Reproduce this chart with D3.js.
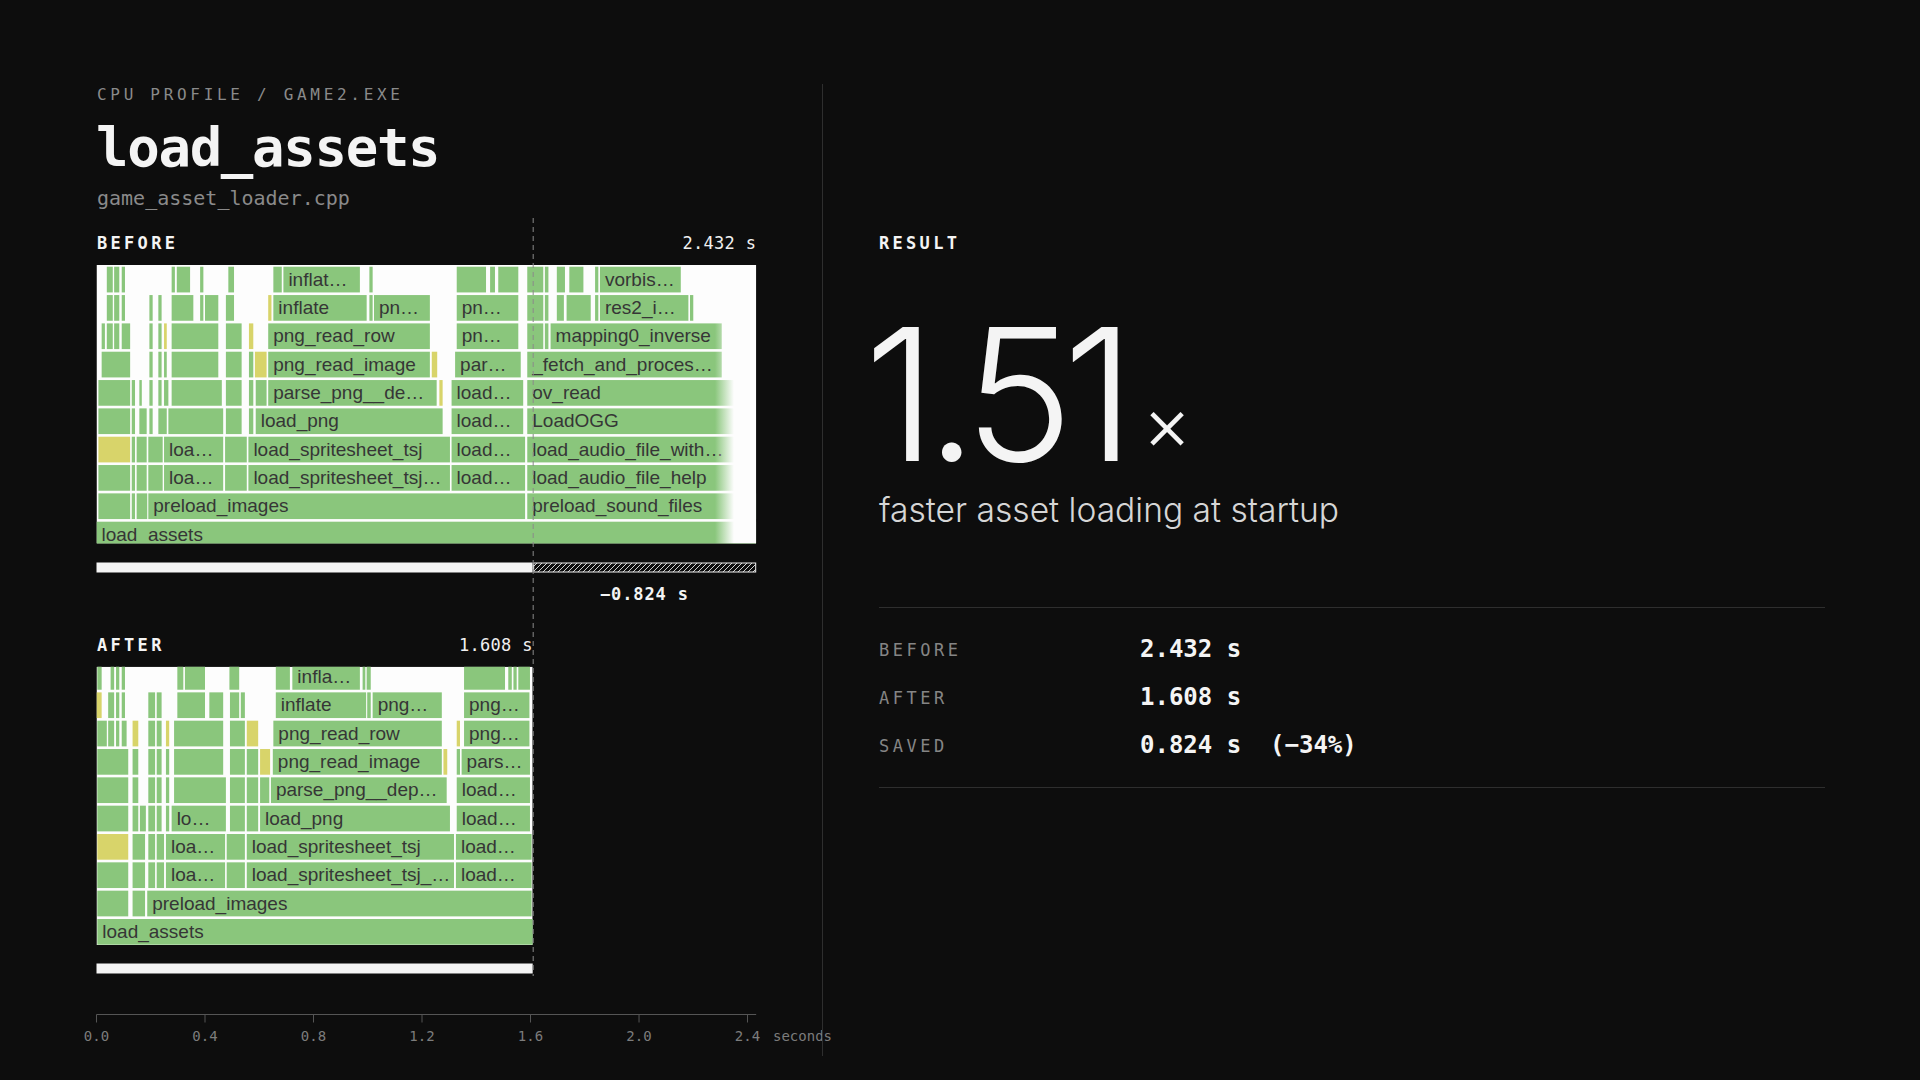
<!DOCTYPE html>
<html><head><meta charset="utf-8">
<script src="https://cdn.jsdelivr.net/npm/d3@7"></script>
<style>
html,body{margin:0;padding:0;background:#0d0d0d;}
svg{display:block;}
</style></head><body>
<svg id="chart" width="1920" height="1080"></svg>
<script>
// ---- data (times in ms) : [depth, start, end, label, kind] ----
const beforeFrames = [
 [0,0,2432,"load_assets"],
 [1,7,124],[1,130,142],[1,148,187],[1,191,1580,"preload_images"],[1,1588,2432,"preload_sound_files"],
 [2,7,124],[2,130,142],[2,148,185],[2,191,244],[2,249,467,"loa…"],[2,474,554],[2,560,1303,"load_spritesheet_tsj…"],[2,1309,1580,"load…"],[2,1588,2420,"load_audio_file_help"],
 [3,7,124,"","y"],[3,130,142],[3,148,185],[3,191,244],[3,249,467,"loa…"],[3,474,554],[3,560,1303,"load_spritesheet_tsj"],[3,1309,1580,"load…"],[3,1588,2420,"load_audio_file_with…"],
 [4,7,124],[4,130,142],[4,158,185],[4,195,207],[4,228,259],[4,265,467],[4,477,535],[4,562,578],[4,587,1276,"load_png"],[4,1309,1573,"load…"],[4,1588,2420,"LoadOGG"],
 [5,7,124],[5,130,142],[5,158,167],[5,195,207],[5,228,240],[5,249,265],[5,277,462],[5,477,535],[5,562,578],[5,587,627],[5,633,1254,"parse_png__de…"],[5,1264,1276,"","y"],[5,1309,1573,"load…"],[5,1588,2420,"ov_read"],
 [6,19,124],[6,195,207],[6,228,240],[6,249,259],[6,277,449],[6,477,535],[6,562,578],[6,584,627,"","y"],[6,633,1229,"png_read_image"],[6,1236,1256,"","y"],[6,1322,1564,"par…"],[6,1588,2305,"_fetch_and_proces…"],
 [7,19,31],[7,38,60],[7,65,84],[7,93,124],[7,195,207],[7,228,240],[7,249,259,"","y"],[7,277,449],[7,477,535],[7,562,578,"","y"],[7,633,1229,"png_read_row"],[7,1328,1555,"pn…"],[7,1588,1647],[7,1653,1666],[7,1674,2305,"mapping0_inverse"],
 [8,38,60],[8,65,84],[8,93,105],[8,195,207],[8,228,240],[8,277,357],[8,382,394],[8,400,449],[8,477,507],[8,633,645,"","y"],[8,652,996,"inflate"],[8,1006,1018],[8,1023,1229,"pn…"],[8,1328,1555,"pn…"],[8,1588,1647],[8,1653,1666],[8,1697,1723],[8,1733,1822],[8,1838,1850],[8,1856,2182,"res2_i…"],[8,2188,2200],
 [9,38,60],[9,65,84],[9,93,105],[9,277,289],[9,296,345],[9,382,394],[9,486,507],[9,652,683],[9,689,971,"inflat…"],[9,1006,1018],[9,1328,1436],[9,1451,1469],[9,1481,1555],[9,1588,1647],[9,1653,1666],[9,1697,1727],[9,1743,1795],[9,1838,1850],[9,1856,2154,"vorbis…"]
];
const afterFrames = [
 [0,3,1610,"load_assets"],
 [1,3,117],[1,133,179],[1,187,1604,"preload_images"],
 [2,3,117],[2,133,179],[2,191,216],[2,222,249],[2,256,474,"loa…"],[2,480,547],[2,554,1318,"load_spritesheet_tsj_…"],[2,1325,1604,"load…"],
 [3,3,117,"","y"],[3,133,179],[3,191,216],[3,222,249],[3,256,474,"loa…"],[3,480,547],[3,554,1318,"load_spritesheet_tsj"],[3,1325,1604,"load…"],
 [4,3,117],[4,133,154],[4,160,182],[4,191,216],[4,222,240],[4,256,268],[4,277,477,"lo…"],[4,492,547],[4,554,596],[4,603,1303,"load_png"],[4,1328,1598,"load…"],
 [5,3,117],[5,133,154],[5,191,216],[5,222,240],[5,256,268],[5,286,477],[5,492,547],[5,554,596],[5,603,637],[5,643,1291,"parse_png__dep…"],[5,1328,1598,"load…"],
 [6,3,117],[6,133,154],[6,191,216],[6,222,240],[6,256,268],[6,286,467],[6,492,547],[6,554,596],[6,603,640,"","y"],[6,650,1273,"png_read_image"],[6,1279,1293,"","y"],[6,1328,1340],[6,1346,1598,"pars…"],
 [7,3,38],[7,43,65],[7,72,84],[7,93,111],[7,133,154,"","y"],[7,191,216],[7,222,240],[7,256,268,"","y"],[7,286,467],[7,492,547],[7,554,596,"","y"],[7,652,1273,"png_read_row"],[7,1328,1340,"","y"],[7,1355,1596,"png…"],
 [8,0,19,"","y"],[8,43,65],[8,72,84],[8,93,105],[8,191,216],[8,222,240],[8,298,400],[8,416,467],[8,492,526],[8,532,547],[8,661,994,"inflate"],[8,998,1011],[8,1018,1273,"png…"],[8,1355,1596,"png…"],
 [9,3,19],[9,52,65],[9,72,84],[9,93,105],[9,298,320],[9,326,400],[9,490,526],[9,661,713],[9,722,971,"infla…"],[9,981,991],[9,996,1011],[9,1355,1506],[9,1518,1531],[9,1537,1549],[9,1555,1598]
];
const beforeTotal = 2.432;
const afterTotal = 1.608;
const savedTotal = 0.824;
const speedup = "1.51";
const axisTicks = [0,0.4,0.8,1.2,1.6,2.0,2.4];
const tickLabels = ["0.0","0.4","0.8","1.2","1.6","2.0","2.4"];
const statLabels = ["BEFORE","AFTER","SAVED"];
const statValues = ["2.432 s","1.608 s","0.824 s  (−34%)"];

// ---- drawing ----
const MONO = '"DejaVu Sans Mono", monospace';
const SANS = 'Inter, "Noto Sans", sans-serif';
const GREEN = "#8ac67c", YELLOW = "#d8d46a";
const svg = d3.select("#chart");
svg.append("rect").attr("width",1920).attr("height",1080).attr("fill","#0d0d0d");
const defs = svg.append("defs");

const x = d3.scaleLinear().domain([0, beforeTotal]).range([96.5, 756.2]);
const ROW = 28.33, FH = 25.7;

// header
svg.append("text").attr("x",97).attr("y",100).attr("fill","#8a8a8a")
  .style("font-family",MONO).style("font-size","16px").style("letter-spacing","3.7px")
  .text("CPU PROFILE / GAME2.EXE");
svg.append("text").attr("x",96).attr("y",166).attr("fill","#f4f4f4")
  .style("font-family",MONO).style("font-size","54px").style("font-weight","bold").style("letter-spacing","-1.3px")
  .text("load_assets");
svg.append("text").attr("x",97).attr("y",205).attr("fill","#8a8a8a")
  .style("font-family",MONO).style("font-size","20px")
  .text("game_asset_loader.cpp");

function sectionLabel(tx, ty, t){
  svg.append("text").attr("x",tx).attr("y",ty).attr("fill","#f4f4f4")
    .style("font-family",MONO).style("font-size","17px").style("font-weight","bold").style("letter-spacing","3.3px")
    .text(t);
}
function totalLabel(total, ty){
  svg.append("text").attr("x",x(total)).attr("y",ty).attr("fill","#f0f0f0").attr("text-anchor","end")
    .style("font-family",MONO).style("font-size","17px").style("letter-spacing","0.3px")
    .text(total.toFixed(3)+" s");
}
sectionLabel(97,249,"BEFORE");
totalLabel(beforeTotal,249);
sectionLabel(97,651,"AFTER");
totalLabel(afterTotal,651);

// flame panels
const panels = [
  {id:"b", frames:beforeFrames, total:beforeTotal, boxTop:265, boxH:278.5, depth0Top:521.7, fade:true},
  {id:"a", frames:afterFrames, total:afterTotal, boxTop:666.7, boxH:278.3, depth0Top:919, fade:false}
];
const grad = defs.append("linearGradient").attr("id","fade").attr("x1","0").attr("x2","1").attr("y1","0").attr("y2","0");
grad.append("stop").attr("offset","0%").attr("stop-color","#fdfdfd").attr("stop-opacity",0);
grad.append("stop").attr("offset","46%").attr("stop-color","#fdfdfd").attr("stop-opacity",1);
grad.append("stop").attr("offset","100%").attr("stop-color","#fdfdfd").attr("stop-opacity",1);

panels.forEach(p=>{
  const x0 = x(0), x1 = x(p.total);
  defs.append("clipPath").attr("id","clip-"+p.id).append("rect")
    .attr("x",x0).attr("y",p.boxTop).attr("width",x1-x0).attr("height",p.boxH);
  const g = svg.append("g").attr("clip-path","url(#clip-"+p.id+")");
  g.append("rect").attr("x",x0).attr("y",p.boxTop).attr("width",x1-x0).attr("height",p.boxH).attr("fill","#fdfdfd");
  const y = d3.scaleLinear().domain([0,9]).range([p.depth0Top, p.depth0Top-9*ROW]);
  g.selectAll("rect.f").data(p.frames).join("rect").attr("class","f")
    .attr("x",d=>x(d[1]/1000)).attr("y",d=>y(d[0]))
    .attr("width",d=>Math.max(0.8,x(d[2]/1000)-x(d[1]/1000))).attr("height",FH)
    .attr("fill",d=>d[4]==="y"?YELLOW:GREEN);
  g.selectAll("text.fl").data(p.frames.filter(d=>d[3])).join("text").attr("class","fl")
    .attr("x",d=>x(d[1]/1000)+5).attr("y",d=>y(d[0])+19)
    .attr("fill","#363636")
    .style("font-family",'"Liberation Sans", Arial, sans-serif').style("font-size","19px")
    .text(d=>d[3]);
  if(p.fade){
    g.append("rect").attr("x",x(2.28)).attr("y",p.boxTop).attr("width",x1-x(2.28)).attr("height",p.boxH).attr("fill","url(#fade)");
  }
});

// duration bars
const pat = defs.append("pattern").attr("id","hatch").attr("patternUnits","userSpaceOnUse").attr("width",5).attr("height",5);
pat.append("path").attr("d","M-1,6 L6,-1 M-1,1 L1,-1 M4,6 L6,4").attr("stroke","#e8e8e8").attr("stroke-width",0.9);
svg.append("rect").attr("x",x(0)).attr("y",562.5).attr("width",x(afterTotal)-x(0)).attr("height",10).attr("fill","#f4f4f4");
svg.append("rect").attr("x",x(afterTotal)+1).attr("y",563).attr("width",x(beforeTotal)-x(afterTotal)-1.5).attr("height",9)
  .attr("fill","url(#hatch)").attr("stroke","#f0f0f0").attr("stroke-width",1);
svg.append("text").attr("x",(x(afterTotal)+x(beforeTotal))/2).attr("y",600).attr("text-anchor","middle").attr("fill","#f4f4f4")
  .style("font-family",MONO).style("font-size","17px").style("font-weight","bold").style("letter-spacing","0.9px")
  .text("−"+savedTotal.toFixed(3)+" s");
svg.append("rect").attr("x",x(0)).attr("y",963.5).attr("width",x(afterTotal)-x(0)).attr("height",10).attr("fill","#f4f4f4");

// dashed reference line
svg.append("line").attr("x1",x(afterTotal)+0.5).attr("x2",x(afterTotal)+0.5).attr("y1",218).attr("y2",976)
  .attr("stroke","#8a8a8a").attr("stroke-width",1).attr("stroke-dasharray","5,4");

// axis
const axisG = svg.append("g").attr("transform","translate(0,1014.5)");
axisG.append("line").attr("x1",x(0)).attr("x2",x(beforeTotal)).attr("stroke","#555");
axisG.selectAll("line.t").data(axisTicks).join("line").attr("class","t")
  .attr("x1",d=>x(d)).attr("x2",d=>x(d)).attr("y1",0).attr("y2",8).attr("stroke","#555");
axisG.selectAll("text").data(axisTicks).join("text")
  .attr("x",d=>x(d)).attr("y",26.5).attr("text-anchor","middle").attr("fill","#7c7c7c")
  .style("font-family",MONO).style("font-size","14px")
  .text((d,i)=>tickLabels[i]);
axisG.append("text").attr("x",773).attr("y",26.5).attr("fill","#7c7c7c")
  .style("font-family",MONO).style("font-size","14px").text("seconds");

// divider
svg.append("line").attr("x1",822.5).attr("x2",822.5).attr("y1",84).attr("y2",1056).attr("stroke","#2e2e2e");

// right panel
sectionLabel(879,249,"RESULT");
svg.append("text").attr("x",864).attr("y",461).attr("fill","#f4f4f4")
  .style("font-family",SANS).style("font-size","184px").style("font-weight","300").style("letter-spacing","-10.7px")
  .text(speedup);
svg.append("text").attr("x",1142.5).attr("y",449.5).attr("fill","#f4f4f4")
  .style("font-family",SANS).style("font-size","75px").style("font-weight","300")
  .text("×");
svg.append("text").attr("x",879).attr("y",522).attr("fill","#d6d6d6")
  .style("font-family",SANS).style("font-size","33.6px").style("font-weight","300")
  .text("faster asset loading at startup");

svg.append("line").attr("x1",879).attr("x2",1825).attr("y1",607.5).attr("y2",607.5).attr("stroke","#2e2e2e");
svg.append("line").attr("x1",879).attr("x2",1825).attr("y1",787.5).attr("y2",787.5).attr("stroke","#2e2e2e");
const statY = [656,704,752];
svg.selectAll("text.sl").data(statLabels).join("text").attr("class","sl")
  .attr("x",879).attr("y",(d,i)=>statY[i]).attr("fill","#858585")
  .style("font-family",MONO).style("font-size","17px").style("letter-spacing","3.5px")
  .text(d=>d);
svg.selectAll("text.sv").data(statValues).join("text").attr("class","sv")
  .attr("x",1140).attr("y",(d,i)=>statY[i]+1).attr("fill","#f4f4f4")
  .attr("xml:space","preserve").style("white-space","pre")
  .style("font-family",MONO).style("font-size","24px").style("font-weight","bold")
  .text(d=>d);
</script>
</body></html>
